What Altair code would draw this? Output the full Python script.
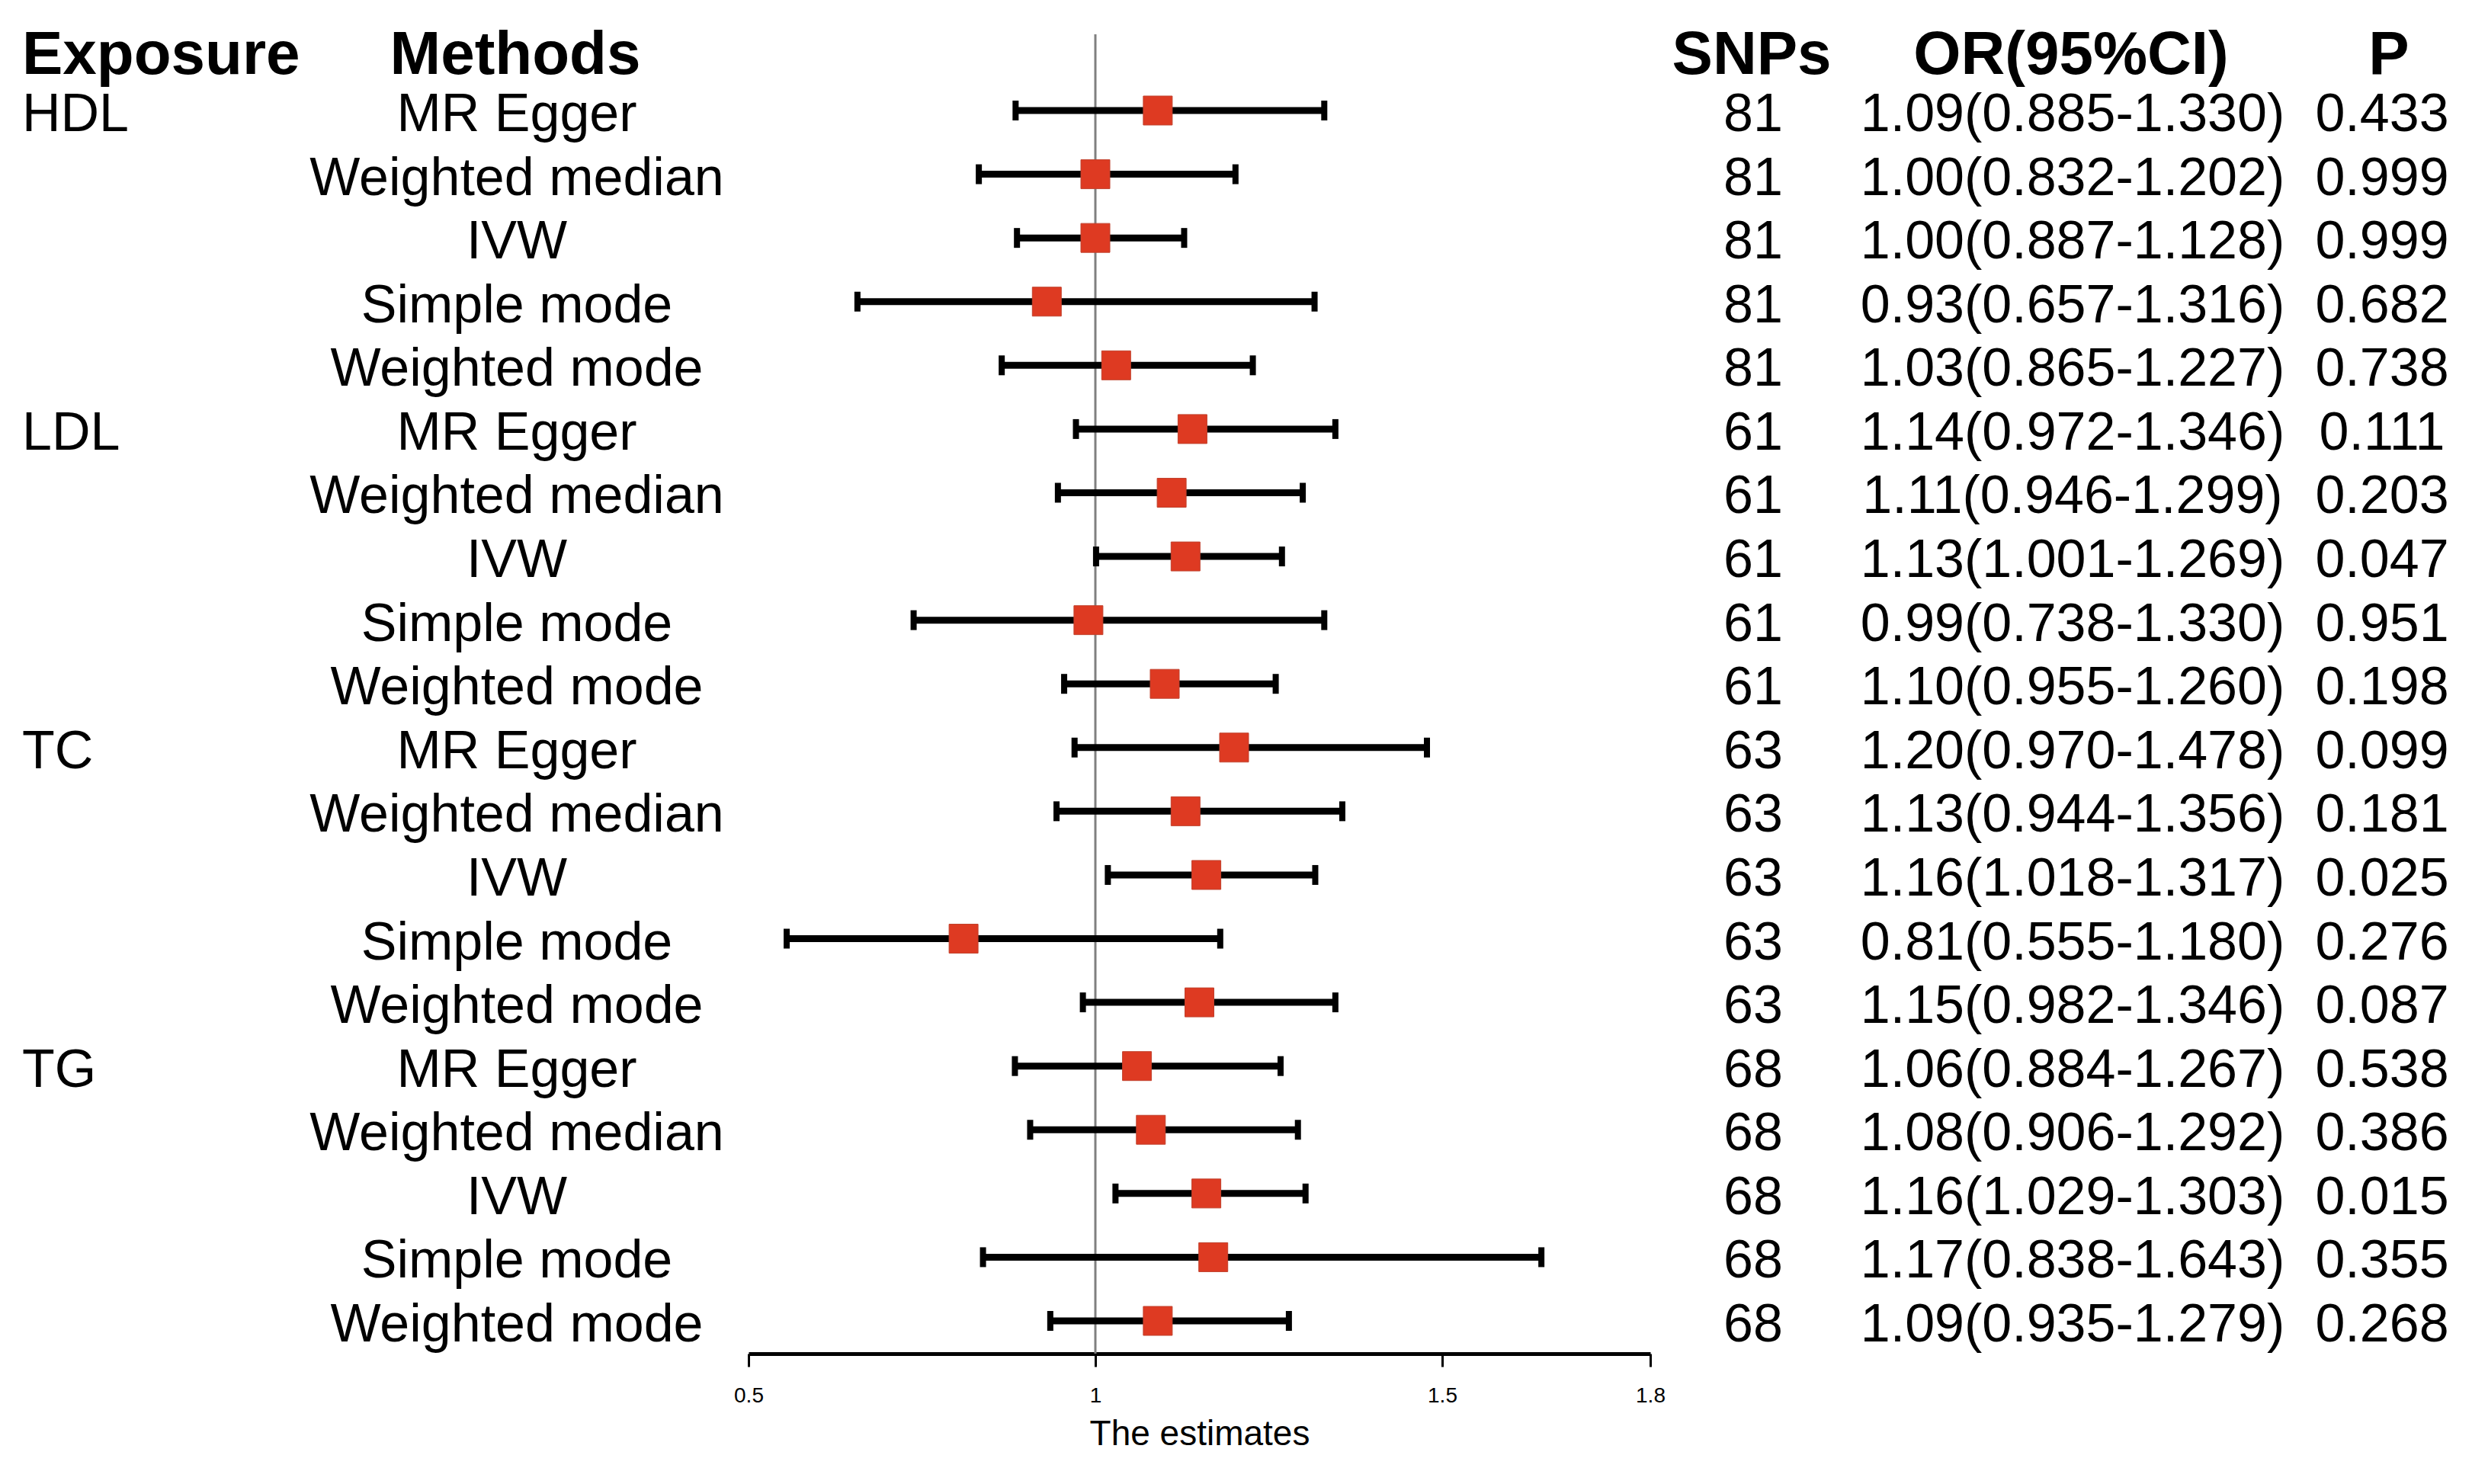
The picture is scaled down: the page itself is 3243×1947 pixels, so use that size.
import altair as alt
import pandas as pd

# ---------------- data ----------------
exposures = ["HDL", "LDL", "TC", "TG"]
methods = ["MR Egger", "Weighted median", "IVW", "Simple mode", "Weighted mode"]
snps = [81, 61, 63, 68]
or_est = [1.09, 1.00, 1.00, 0.93, 1.03,
          1.14, 1.11, 1.13, 0.99, 1.10,
          1.20, 1.13, 1.16, 0.81, 1.15,
          1.06, 1.08, 1.16, 1.17, 1.09]
ci_low = [0.885, 0.832, 0.887, 0.657, 0.865,
          0.972, 0.946, 1.001, 0.738, 0.955,
          0.970, 0.944, 1.018, 0.555, 0.982,
          0.884, 0.906, 1.029, 0.838, 0.935]
ci_high = [1.330, 1.202, 1.128, 1.316, 1.227,
           1.346, 1.299, 1.269, 1.330, 1.260,
           1.478, 1.356, 1.317, 1.180, 1.346,
           1.267, 1.292, 1.303, 1.643, 1.279]
p_vals = [0.433, 0.999, 0.999, 0.682, 0.738,
          0.111, 0.203, 0.047, 0.951, 0.198,
          0.099, 0.181, 0.025, 0.276, 0.087,
          0.538, 0.386, 0.015, 0.355, 0.268]
headers = ["Exposure", "Methods", "SNPs", "OR(95%CI)", "P"]
x_ticks = [0.5, 1, 1.5, 1.8]
x_title = "The estimates"
ref_value = [1]

rows = []
i = 0
for gi, ex in enumerate(exposures):
    for mi, m in enumerate(methods):
        rows.append({
            "row": i + 1,
            "exp_label": ex if mi == 0 else "",
            "method": m,
            "snps": str(snps[gi]),
            "or": or_est[i],
            "lo": ci_low[i],
            "hi": ci_high[i],
            "or_text": f"{or_est[i]:.2f}({ci_low[i]:.3f}-{ci_high[i]:.3f})",
            "p_text": f"{p_vals[i]:.3f}",
        })
        i += 1
df = pd.DataFrame(rows)

# ---------------- layout / style ----------------
W, H = 3220, 1731
FONT = "Liberation Sans"
RED = "#DE3A22"

xscale = alt.Scale(domain=[min(x_ticks), max(x_ticks)], range=[974, 2157])
yscale = alt.Scale(domain=[1, len(df)], range=[100, 1688])
xaxis = alt.Axis(values=x_ticks, format="~g", title=x_title, grid=False,
                 domainColor="black", domainWidth=5, tickColor="black",
                 tickWidth=3, tickSize=17, labelFontSize=28, labelPadding=24,
                 labelFlush=False, labelOverlap=False, labelColor="black",
                 labelFont=FONT, titleFont=FONT, titleFontSize=46,
                 titleFontWeight="normal", titleColor="black", titlePadding=14)


def X(field):
    return alt.X(f"{field}:Q", scale=xscale, axis=xaxis, title=x_title)


Y = alt.Y("row:Q", scale=yscale, axis=None)

base = alt.Chart(df)

ref = alt.Chart(pd.DataFrame({"ref": ref_value})).mark_rule(
    color="#808080", strokeWidth=3
).encode(x=X("ref"), y=alt.value(0), y2=alt.value(H))

bars = base.mark_rule(color="black", strokeWidth=9).encode(
    x=X("lo"), x2="hi:Q", y=Y)
cap_lo = base.mark_tick(orient="vertical", color="black", thickness=8,
                        size=26, opacity=1).encode(x=X("lo"), y=Y)
cap_hi = base.mark_tick(orient="vertical", color="black", thickness=8,
                        size=26, opacity=1).encode(x=X("hi"), y=Y)
pts = base.mark_square(size=38 * 38, color=RED, opacity=1,
                       stroke="#C0402C", strokeWidth=1).encode(x=X("or"), y=Y)


def col_text(field, xpos, align="center"):
    return base.mark_text(align=align, baseline="alphabetic", dy=27,
                          fontSize=70, font=FONT, color="black").encode(
        x=alt.value(xpos), y=Y, text=f"{field}:N")


t_exp = col_text("exp_label", 21, align="left")
t_meth = col_text("method", 670)
t_snp = col_text("snps", 2292)
t_or = col_text("or_text", 2711)
t_p = col_text("p_text", 3117)

header_pos = [(21, "left"), (668, "center"), (2290, "center"),
              (2709, "center"), (3126, "center")]
header_layers = []
for h, (xp, al) in zip(headers, header_pos):
    header_layers.append(
        alt.Chart(pd.DataFrame({"h": [h]})).mark_text(
            align=al, baseline="alphabetic", fontSize=80, fontWeight="bold",
            font=FONT, color="black"
        ).encode(x=alt.value(xp), y=alt.value(52), text="h:N")
    )

chart = alt.layer(
    ref, bars, cap_lo, cap_hi, pts, t_exp, t_meth, t_snp, t_or, t_p,
    *header_layers
).properties(
    width=W, height=H,
    background="white",
    autosize=alt.AutoSizeParams(type="none"),
    padding={"left": 0, "top": 37, "right": 0, "bottom": 150},
).configure_view(strokeWidth=0, stroke="transparent")

chart.save("out.html", embed_options={"renderer": "svg", "actions": False})
